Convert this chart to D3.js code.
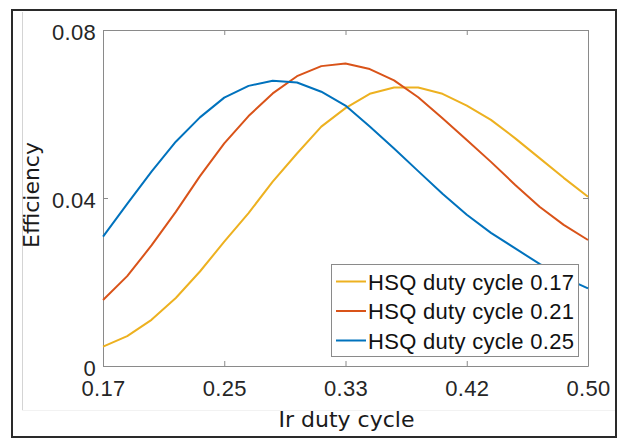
<!DOCTYPE html>
<html>
<head>
<meta charset="utf-8">
<script src="https://cdn.jsdelivr.net/npm/d3@7"></script>
<style>
	body { margin: 0; background: #fff; }
	svg { display: block; }
	.axis .tick text { font-family: 'Liberation Sans', Arial, sans-serif; font-size: 22px; letter-spacing: 0.3px; fill: #262626; }
	.axis path, .axis line { stroke: #8a8a8a; }
	.label { font-family: 'DejaVu Sans', Verdana, sans-serif; font-size: 22px; fill: #1a1a1a; }
	.legend text { font-family: 'Liberation Sans', Arial, sans-serif; font-size: 22px; letter-spacing: 0.3px; fill: #111; }
</style>
</head>
<body>
<script>
// Ir duty cycle sample points
const irDuty = [0.1667, 0.1833, 0.2, 0.2167, 0.2333, 0.25, 0.2667, 0.2833, 0.3, 0.3167, 0.3333,
	0.35, 0.3667, 0.3833, 0.4, 0.4167, 0.4333, 0.45, 0.4667, 0.4833, 0.5];

// Efficiency for each HSQ duty cycle
const hsq017 = [0.0046, 0.0071, 0.011, 0.0162, 0.0225, 0.0296, 0.0364, 0.0439, 0.0506, 0.057, 0.0614,
	0.0648, 0.0663, 0.0663, 0.0648, 0.062, 0.0586, 0.0542, 0.0495, 0.0448, 0.0403];
const hsq021 = [0.0157, 0.0214, 0.0287, 0.0367, 0.0452, 0.053, 0.0595, 0.0649, 0.069, 0.0714, 0.072,
	0.0707, 0.068, 0.064, 0.059, 0.0538, 0.0486, 0.0431, 0.0379, 0.0336, 0.03];
const hsq025 = [0.0308, 0.0386, 0.0463, 0.0534, 0.0592, 0.0639, 0.0667, 0.0679, 0.0675, 0.0653, 0.062,
	0.057, 0.0518, 0.0464, 0.041, 0.036, 0.0317, 0.028, 0.0243, 0.0211, 0.0185];

const seriesNames = ['HSQ duty cycle 0.17', 'HSQ duty cycle 0.21', 'HSQ duty cycle 0.25'];
const seriesColours = ['#EDB120', '#D95319', '#0072BD'];

const xTicks = [1 / 6, 1 / 4, 1 / 3, 5 / 12, 1 / 2];
const xTickLabels = ['0.17', '0.25', '0.33', '0.42', '0.50'];
const yTicks = [0, 0.04, 0.08];
const yTickLabels = ['0', '0.04', '0.08'];

const width = 619;
const height = 439;
const plot = {left: 103, right: 588, top: 30, bottom: 366};

const svg = d3.select('body').append('svg').attr('width', width).attr('height', height);

// Figure frame
svg.append('line')
	.attr('x1', 22.5).attr('x2', 22.5).attr('y1', 12).attr('y2', 410)
	.attr('stroke', '#d4d4d4');
svg.append('line')
	.attr('x1', 22).attr('x2', 616).attr('y1', 410.5).attr('y2', 410.5)
	.attr('stroke', '#f2f2f2');
svg.append('rect')
	.attr('x', 12).attr('y', 10).attr('width', 604).attr('height', 427)
	.attr('fill', 'none').attr('stroke', '#2a2a2a').attr('stroke-width', 2);

const x = d3.scaleLinear().domain([xTicks[0], xTicks[xTicks.length - 1]]).range([plot.left, plot.right]);
const y = d3.scaleLinear().domain([0, 0.08]).range([plot.bottom, plot.top]);

// Axes (MATLAB style box with inward ticks)
svg.append('g')
	.attr('class', 'axis')
	.attr('transform', `translate(0, ${plot.bottom})`)
	.call(d3.axisBottom(x).tickValues(xTicks).tickFormat((d, i) => xTickLabels[i]).tickSizeInner(-5).tickSizeOuter(0).tickPadding(14));

svg.append('g')
	.attr('class', 'axis')
	.attr('transform', `translate(0, ${plot.top})`)
	.call(d3.axisTop(x).tickValues(xTicks).tickFormat('').tickSizeInner(-5).tickSizeOuter(0));

const yAxis = svg.append('g')
	.attr('class', 'axis')
	.attr('transform', `translate(${plot.left}, 0)`)
	.call(d3.axisLeft(y).tickValues(yTicks).tickFormat((d, i) => yTickLabels[i]).tickSizeInner(-5).tickSizeOuter(0).tickPadding(7));
yAxis.selectAll('.tick text').attr('dy', '0.42em');

svg.append('g')
	.attr('class', 'axis')
	.attr('transform', `translate(${plot.right}, 0)`)
	.call(d3.axisRight(y).tickValues(yTicks).tickFormat('').tickSizeInner(-5).tickSizeOuter(0));

// Axis labels
svg.append('text')
	.attr('class', 'label')
	.attr('x', (plot.left + plot.right) / 2 + 1)
	.attr('y', 427)
	.attr('text-anchor', 'middle')
	.text('Ir duty cycle');

svg.append('text')
	.attr('class', 'label')
	.attr('transform', 'translate(39, 195) rotate(-90)')
	.attr('text-anchor', 'middle')
	.text('Efficiency');

// Curves
const series = [hsq017, hsq021, hsq025];
const line = d3.line()
	.x((d, i) => x(irDuty[i]))
	.y((d) => y(d));

svg.selectAll('.curve')
	.data(series)
	.enter()
	.append('path')
	.attr('class', 'curve')
	.attr('d', line)
	.attr('fill', 'none')
	.attr('stroke', (d, i) => seriesColours[i])
	.attr('stroke-width', 2)
	.attr('stroke-linejoin', 'round');

// Legend
const legend = svg.append('g').attr('class', 'legend');
legend.append('rect')
	.attr('x', 331.5).attr('y', 264.5).attr('width', 247).attr('height', 92)
	.attr('fill', '#fff').attr('stroke', '#8a8a8a');

const rows = legend.selectAll('.row')
	.data(seriesNames)
	.enter()
	.append('g')
	.attr('class', 'row')
	.attr('transform', (d, i) => `translate(0, ${281.5 + i * 29.5})`);

rows.append('line')
	.attr('x1', 336).attr('x2', 366)
	.attr('stroke', (d, i) => seriesColours[i])
	.attr('stroke-width', 2);

rows.append('text')
	.attr('x', 368)
	.attr('y', 8)
	.text((d) => d);
</script>
</body>
</html>
